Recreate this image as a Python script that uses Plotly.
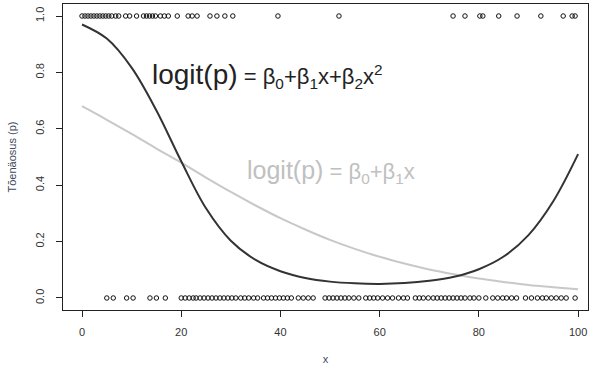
import plotly.graph_objects as go

# observed outcomes
x_top = [0.0, 0.6, 1.2, 1.8, 2.4, 3.0, 3.6, 4.2, 4.8, 5.4, 6.0, 6.8, 7.4, 8.8, 9.6, 11.0,
         12.4, 13.0, 13.6, 14.2, 14.8, 15.8, 16.6, 17.4, 19.2, 21.4, 22.2, 23.2, 25.8, 27.2,
         28.8, 30.4, 39.5, 51.8, 74.8, 77.2, 80.2, 80.8, 84.0, 87.7, 92.5, 97.0, 98.8, 99.4]
x_bottom = [5.0, 6.3, 9.0, 10.3, 13.7, 15.0, 16.8,
            20.0, 20.8, 21.6, 22.4, 23.0, 23.8, 24.6, 25.4, 26.2, 27.0, 27.8, 28.6, 29.4,
            30.2, 31.0, 32.0, 32.8, 33.6, 34.6, 35.4, 36.6, 37.4, 38.2, 39.0, 39.8, 40.6,
            41.4, 42.2, 43.6, 44.6, 45.6, 46.6,
            49.0, 49.8, 50.6, 51.4, 52.2, 53.0, 53.8, 54.8, 55.8,
            57.2, 58.0, 58.8, 59.6, 60.6, 61.6, 62.6, 63.8, 64.8, 65.6,
            67.2, 68.0, 68.8, 69.8, 70.8, 71.6, 72.4, 73.2, 74.0, 74.8, 75.6, 76.4, 77.2,
            78.2, 79.0, 80.0, 81.4, 82.8, 83.8, 84.8, 85.6, 86.6, 87.6, 89.4, 90.6, 91.8,
            92.8, 93.6, 94.6, 95.6, 96.6, 97.6, 99.4]

# fitted curves
curve_x = [0, 5, 10, 15, 20, 25, 30, 35, 40, 45, 50, 55, 60, 65, 70, 75, 80, 85, 90, 95, 100]
p_quad = [0.970, 0.920, 0.817, 0.665, 0.485, 0.318, 0.203, 0.135, 0.095, 0.071, 0.058,
          0.052, 0.050, 0.053, 0.061, 0.075, 0.102, 0.147, 0.223, 0.343, 0.510]
p_lin = [0.680, 0.632, 0.582, 0.530, 0.480, 0.427, 0.376, 0.328, 0.283, 0.243, 0.206,
         0.174, 0.146, 0.122, 0.101, 0.084, 0.069, 0.057, 0.046, 0.038, 0.031]

x_ticks = [0, 20, 40, 60, 80, 100]
y_ticks = [0.0, 0.2, 0.4, 0.6, 0.8, 1.0]
y_tick_labels = ["0.0", "0.2", "0.4", "0.6", "0.8", "1.0"]

FONT = "Liberation Sans, Arial, sans-serif"

fig = go.Figure()
marker = dict(symbol="circle-open", size=4.5, color="#111111", line=dict(width=1, color="#111111"))
fig.add_trace(go.Scatter(x=x_top, y=[1] * len(x_top), mode="markers", marker=marker))
fig.add_trace(go.Scatter(x=x_bottom, y=[0] * len(x_bottom), mode="markers", marker=marker))
fig.add_trace(go.Scatter(x=curve_x, y=p_lin, mode="lines", line=dict(color="#c8c8c8", width=2, shape="spline")))
fig.add_trace(go.Scatter(x=curve_x, y=p_quad, mode="lines", line=dict(color="#333333", width=2, shape="spline")))

fig.add_annotation(x=13.7, y=0.79, xanchor="left", yanchor="middle", showarrow=False,
                   text="<span style='font-size:28px'>logit(p)</span> = β<sub>0</sub>+β<sub>1</sub>x+β<sub>2</sub>x<sup>2</sup>",
                   font=dict(family=FONT, size=22, color="#222222"))
fig.add_annotation(x=32.9, y=0.447, xanchor="left", yanchor="middle", showarrow=False,
                   text="<span style='font-size:25px'>logit(p)</span> = β<sub>0</sub>+β<sub>1</sub>x",
                   font=dict(family=FONT, size=22, color="#c0c0c0"))

axis_common = dict(showline=True, linecolor="#222222", linewidth=1, mirror=True, automargin=False,
                   ticks="outside", ticklen=6, tickcolor="#222222", showgrid=False, zeroline=False,
                   tickfont=dict(family=FONT, size=11, color="#333333"))
fig.update_xaxes(range=[-3.83, 102.0], tickvals=x_ticks, ticklabelstandoff=6, **axis_common,
                 title=dict(text="x", standoff=18,
                            font=dict(family=FONT, size=11, color="#3c4a5a")))
fig.update_yaxes(range=[-0.0426, 1.0426], tickvals=y_ticks, ticktext=y_tick_labels, tickangle=-90,
                 ticklabelstandoff=8, **axis_common,
                 title=dict(text="Tõenäosus (p)", standoff=14,
                            font=dict(family=FONT, size=11, color="#3c4a5a")))
fig.update_layout(width=590, height=369, margin=dict(l=63, r=2, t=4, b=59),
                  plot_bgcolor="white", paper_bgcolor="white", showlegend=False)
fig.write_html("out.html", config={"displayModeBar": False},
               post_script="document.body.style.margin='0';document.body.style.padding='0';")
